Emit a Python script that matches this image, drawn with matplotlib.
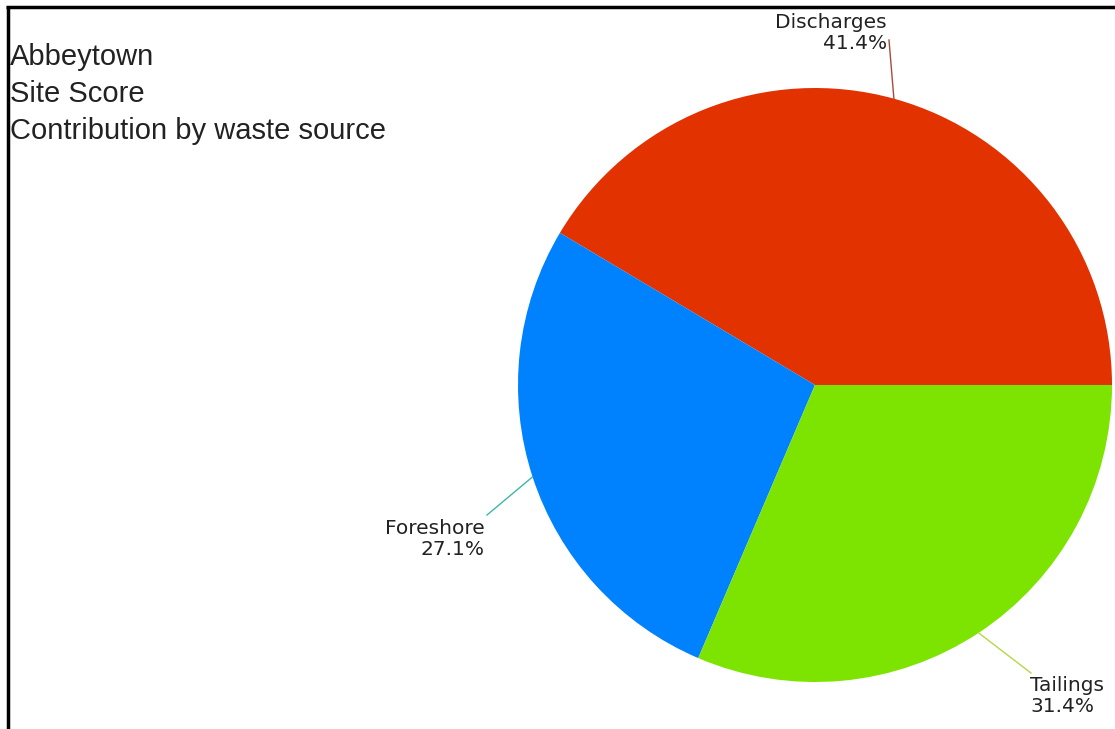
import numpy as np
import matplotlib
matplotlib.use('Agg')
import matplotlib.pyplot as plt

# ── data ──────────────────────────────────────────────────────────────
sources = ['Discharges', 'Foreshore', 'Tailings']
shares = [41.4, 27.1, 31.4]
colors = ['#E23200', '#0082FF', '#7CE400']
line_colors = ['#A84A3A', '#3CB8A8', '#B4D848']
title_lines = ['Abbeytown', 'Site Score', 'Contribution by waste source']

W, H = 1115, 729
fig = plt.figure(figsize=(W / 100, H / 100), dpi=100)
ax = fig.add_axes([0, 0, 1, 1])

# pie in pixel-like coords (y up)
cx, cy, r = 815, H - 385, 297
wedges, _ = ax.pie(shares, colors=colors, startangle=0, counterclock=True,
                   radius=r, center=(cx, cy), frame=True,
                   wedgeprops=dict(linewidth=0))
ax.set_xlim(0, W)
ax.set_ylim(0, H)
ax.set_aspect('auto')
ax.axis('off')

# labels with leader lines from mid-angle of each wedge
label_pos = [(889, H - 40), (487, H - 515), (1031, H - 673)]
text_pos = [(887, H - 13, 'right', 'top'),
            (485, H - 519, 'right', 'top'),
            (1030, H - 676, 'left', 'top')]
for w, lab, val, lc, lp, tp in zip(wedges, sources, shares, line_colors, label_pos, text_pos):
    mid = np.deg2rad((w.theta1 + w.theta2) / 2)
    x0, y0 = cx + r * np.cos(mid), cy + r * np.sin(mid)
    ax.plot([x0, lp[0]], [y0, lp[1]], color=lc, lw=1)
    ax.text(tp[0], tp[1], f'{lab}\n{val}%', ha=tp[2], va=tp[3],
            multialignment=tp[2], fontsize=14.5, family='DejaVu Sans',
            color='#222222', linespacing=1.12)

# title block
ax.text(10, H - 43, '\n'.join(title_lines), ha='left', va='top',
        fontsize=21, family='Liberation Sans', color='#222222', linespacing=1.42)

# frame lines (top and left)
ax.plot([6, W], [H - 7, H - 7], color='black', lw=2.5, solid_capstyle='butt')
ax.plot([7.5, 7.5], [0, H - 6], color='black', lw=2.5, solid_capstyle='butt')

plt.savefig('out.png', dpi=100)
